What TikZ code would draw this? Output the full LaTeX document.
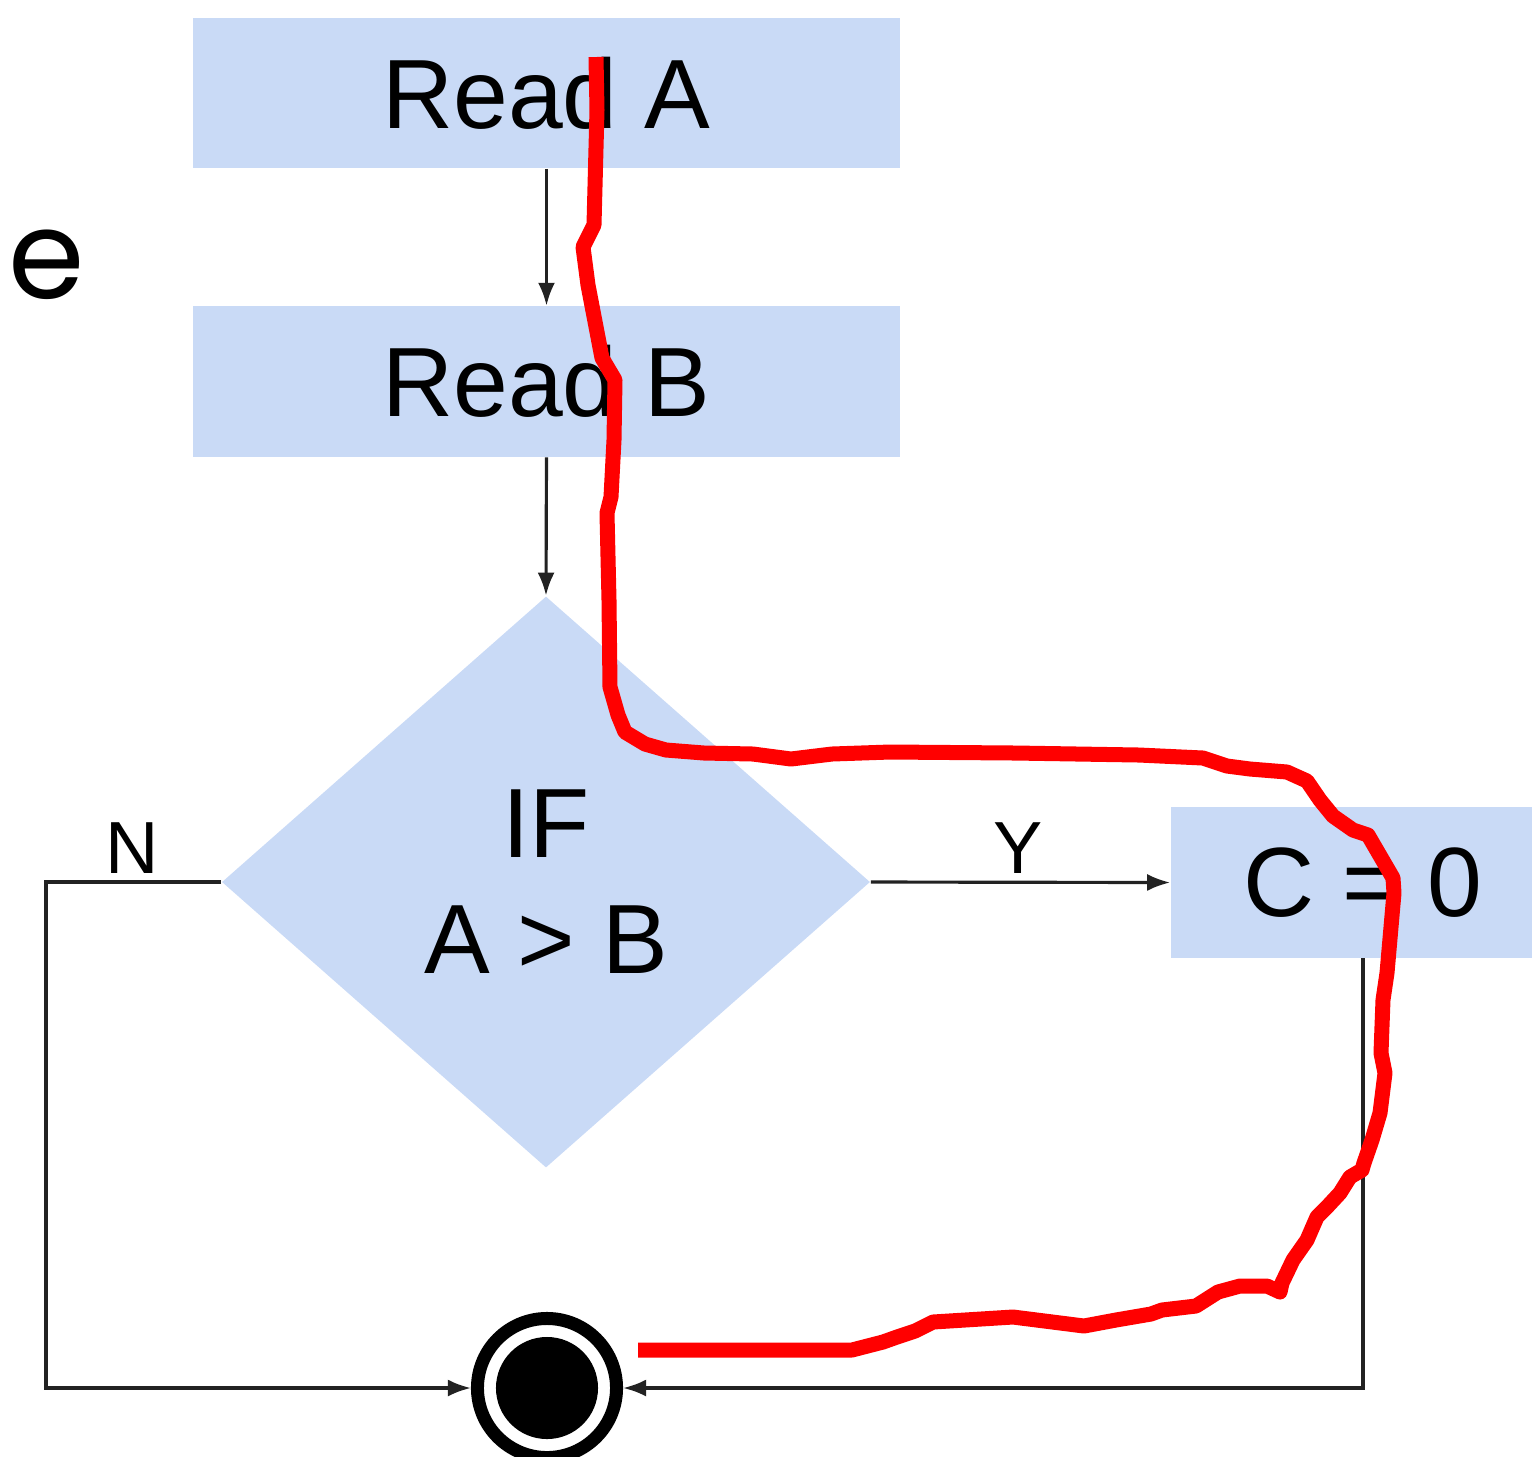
\documentclass[tikz,border=0pt]{standalone}
\usepackage{fontspec}
\setmainfont{Liberation Sans}
\newfontfamily\thinfont{Poppins}
\usetikzlibrary{shapes.geometric,arrows.meta}

\definecolor{boxblue}{HTML}{C9DAF6}
\definecolor{linegray}{HTML}{222222}
\definecolor{inkred}{HTML}{FF0000}

\begin{document}
\begin{tikzpicture}[x=0.01cm,y=-0.01cm,
    box/.style={fill=boxblue,inner sep=0pt,minimum width=7.07cm,minimum height=1.5cm,
        font=\fontsize{28}{33}\selectfont},
    decision/.style={diamond,fill=boxblue,inner sep=0pt,minimum width=6.48cm,
        minimum height=5.71cm,align=center,font=\fontsize{28}{33}\selectfont},
    lbl/.style={inner sep=0pt,anchor=base,font=\fontsize{21}{24}\selectfont},
    flow/.style={draw=linegray,line width=0.9pt,-{Latex[length=2.3mm,width=1.7mm]}},
    redline/.style={draw=inkred,line width=0.15cm,line join=round}
]

    % frame of the page
    \useasboundingbox (0,0) rectangle (1532,1456);
    \clip (0,0) rectangle (1532,1456);

    % cut-off word on the left
    \node[anchor=base west,inner sep=0pt,font=\thinfont\fontsize{35}{40}\selectfont] (etxt) at (8,298) {e};

    % read steps
    \foreach \v/\y in {A/93,B/381.5} {
        \node[box] (read\v) at (546.5,\y) {Read \v};
    }

    % test
    \node[decision] (ifab) at (546,882) {IF\\A > B};

    % assignment, runs past the right edge
    \node[box,minimum width=3.84cm] (czero) at (1363,882.5) {C = 0};

    % end state
    \node[circle,draw=black,line width=0.13cm,minimum size=1.39cm,inner sep=0pt] (stop) at (547,1388) {};
    \fill (stop.center) circle (0.51cm);

    % connectors
    \draw[flow] (readA.south) -- (readB.north);
    \draw[flow] (readB.south) -- (ifab.north);
    \draw[flow] (ifab.east) -- (czero.west);
    \coordinate (nturn) at (46,882);
    \draw[flow] (ifab.west) -- (nturn) |- (stop.west);
    \draw[flow] (czero.south) |- (stop.east);

    % branch labels
    \node[lbl] (nlabel) at (132,873) {N};
    \node[lbl] (ylabel) at (1018,873) {Y};

    % hand-drawn red trace
    \draw[redline] plot coordinates {
        (596,57) (597,110) (594,225) (583,247) (588,285) (602,358) (615,380)
        (614,440) (611,497) (607,513) (609,600) (610,687) (618,715) (625,732)
        (645,744) (666,750) (704,753) (753,754) (791,759) (832,754) (890,752)
        (1015,753) (1139,755) (1203,758) (1227,766) (1250,769) (1287,772)
        (1307,781) (1320,800) (1333,816) (1353,830) (1368,835) (1393,878)
        (1394,893) (1387,973) (1383,1000) (1381,1053) (1385,1073) (1380,1113)
        (1372,1140) (1364,1163) (1362,1170) (1350,1177) (1340,1193) (1327,1207)
        (1317,1217) (1307,1240) (1293,1260) (1282,1283) (1280,1292) (1267,1286)
        (1240,1286) (1218,1292) (1196,1306) (1162,1310) (1151,1314) (1116,1320)
        (1084,1326) (1013,1317) (933,1322) (915,1331) (897,1337) (883,1342)
        (852,1350) (638,1350)
    };

\end{tikzpicture}
\end{document}
